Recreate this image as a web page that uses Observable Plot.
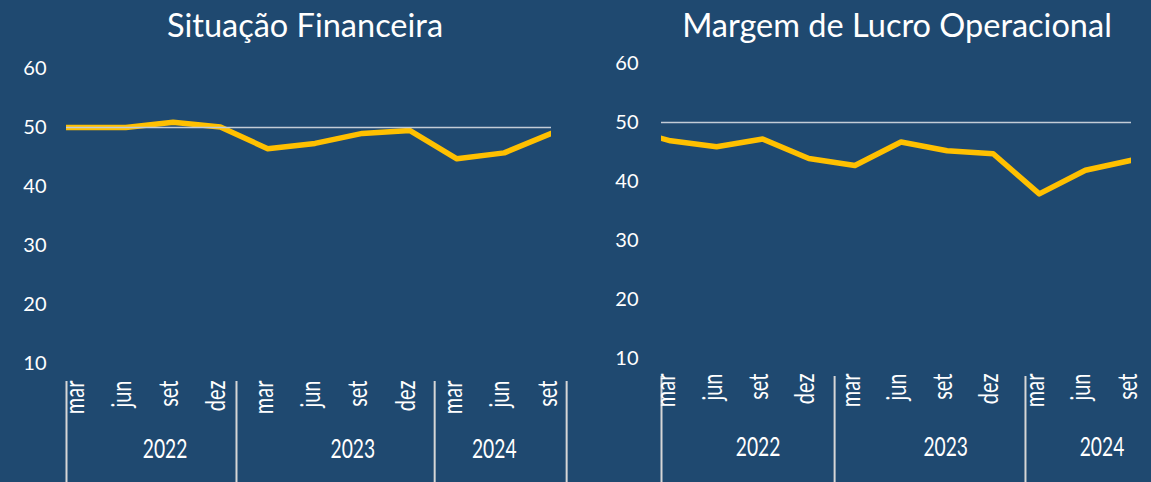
<!DOCTYPE html>
<html>
<head>
<meta charset="utf-8">
<script src="https://cdn.jsdelivr.net/npm/d3@7"></script>
<script src="https://cdn.jsdelivr.net/npm/@observablehq/plot@0.6"></script>
<style>
  html, body { margin: 0; padding: 0; width: 1151px; height: 482px; overflow: hidden; background: #1F4970; font-family: Lato, "Open Sans", sans-serif; }
  .title { position: absolute; top: 9px; width: 600px; text-align: center; color: #ffffff; font-size: 32.5px; line-height: 32px; white-space: nowrap; }
  .chart { position: absolute; top: 50px; }
</style>
</head>
<body>
<script>
// ---- data ----
const months = ["mar", "jun", "set", "dez", "mar", "jun", "set", "dez", "mar", "jun", "set"];
const years = ["2022", "2023", "2024"];
const yTicks = [10, 20, 30, 40, 50, 60];
const referenceLevel = 50;
const situacaoFinanceira = [50.0, 50.0, 50.9, 50.1, 46.4, 47.3, 49.0, 49.5, 44.7, 45.7, 49.0];
const situacaoPrevious = 50.0;   // dez/2021, only a sliver visible at the left edge
const margemLucro = [46.9, 45.9, 47.2, 43.9, 42.7, 46.7, 45.2, 44.7, 37.9, 41.9, 43.6];
const margemPrevious = 49.0;     // dez/2021, only a sliver visible at the left edge

// ---- layout ----
const panels = [
  { title: "Situação Financeira", values: situacaoFinanceira, previous: situacaoPrevious,
    left: 0, width: 580, marginLeft: 66, marginRight: 29, marginTop: 18, marginBottom: 119,
    xMin: -0.254, separators: [-0.254, 3.34, 7.53, 10.32], yearPos: [1.83, 5.80, 8.79],
    titleCenter: 305, tickPadding: 20, monthDy: 17, yearDy: 94 },
  { title: "Margem de Lucro Operacional", values: margemLucro, previous: margemPrevious,
    left: 580, width: 571, marginLeft: 81, marginRight: 20, marginTop: 13, marginBottom: 124,
    xMin: -0.195, separators: [-0.195, 3.56, 7.70], yearPos: [1.9, 5.97, 9.36],
    titleCenter: 897, tickPadding: 23, monthDy: 15, yearDy: 97 }
];

const H = 432;
for (const p of panels) {
  const t = document.createElement("div");
  t.className = "title";
  t.style.left = (p.titleCenter - 300) + "px";
  t.textContent = p.title;
  document.body.appendChild(t);

  const rows = [{ i: -1, value: p.previous }, ...p.values.map((v, i) => ({ i, value: v }))];
  const plotH = H - p.marginTop - p.marginBottom;

  const svg = Plot.plot({
    width: p.width, height: H,
    marginLeft: p.marginLeft, marginRight: p.marginRight,
    marginTop: p.marginTop, marginBottom: p.marginBottom,
    style: { background: "transparent", color: "#ffffff", fontFamily: "Lato, sans-serif", overflow: "visible" },
    x: { type: "linear", domain: [p.xMin, months.length - 1], axis: null },
    y: { domain: [10, 60], label: null },
    marks: [
      Plot.axisY(yTicks, { tickSize: 0, tickPadding: p.tickPadding, fontSize: 20, fill: "#ffffff", label: null }),
      Plot.lineY(rows, { x: "i", y: "value", stroke: "#FFC000", strokeWidth: 5.5, clip: true, strokeLinejoin: "round", strokeLinecap: "round" }),
      Plot.ruleY([referenceLevel], { stroke: "#c3ccd6", strokeWidth: 1.5 }),
      Plot.ruleX(p.separators, { x: d => d, stroke: "#d6d6d6", strokeWidth: 2, insetTop: plotH + 18, insetBottom: -p.marginBottom }),
      Plot.text(months, { x: (d, i) => i, text: d => d, frameAnchor: "bottom", dx: 5, dy: p.monthDy, rotate: -90, textAnchor: "end", fontSize: 27, fill: "#ffffff" }),
      Plot.text(years, { x: (d, i) => p.yearPos[i], text: d => d, frameAnchor: "bottom", dy: p.yearDy, fontSize: 26, fill: "#ffffff" })
    ]
  });
  // condensed look for category labels
  d3.select(svg).selectAll('g[aria-label="text"] text').each(function () {
    const tr = this.getAttribute("transform") || "";
    this.setAttribute("transform", tr + " scale(0.74,1)");
  });
  const wrap = document.createElement("div");
  wrap.className = "chart";
  wrap.style.left = p.left + "px";
  wrap.appendChild(svg);
  document.body.appendChild(wrap);
}
</script>
</body>
</html>
